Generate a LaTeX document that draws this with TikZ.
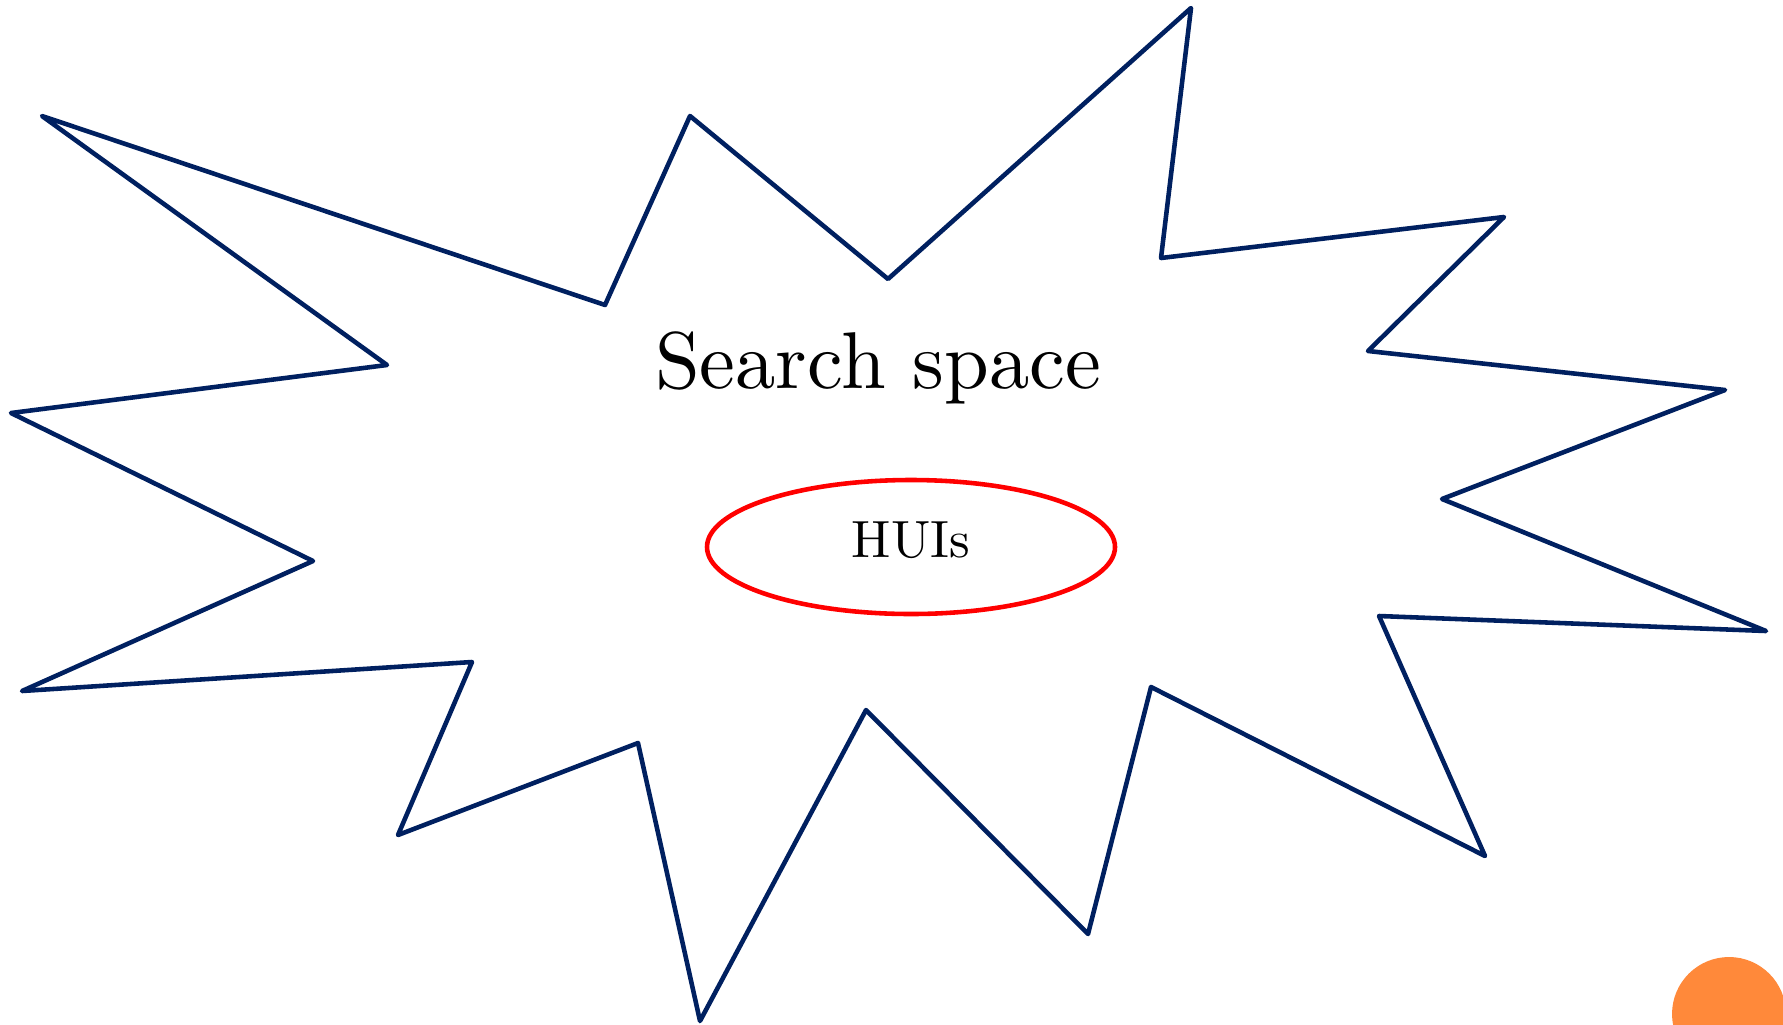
\documentclass[tikz,border=0pt]{standalone}
\usepackage{tikz}
\usetikzlibrary{positioning}
\usetikzlibrary{shapes.geometric}
\definecolor{mnavy}{RGB}{0,32,96}
\definecolor{morange}{RGB}{255,137,58}
\newlength{\pxu}
\setlength{\pxu}{0.01cm}
\tikzset{burst/.style = {draw=mnavy, line width=1.3pt, line join=round, line cap=round}}
\tikzset{hui/.style = {draw=red, line width=1.3pt, ellipse, minimum width=408\pxu, minimum height=134\pxu, inner sep=0}}

\begin{document}
\begin{tikzpicture}[x=0.01cm, y=-0.01cm]
      \useasboundingbox (0,0) rectangle (1783,1024);
      \clip (0,0) rectangle (1783,1024);
      \draw[burst] (42,116) -- (605,305) -- (690,116) -- (888,279)
        -- (1191,8) -- (1161,258) -- (1504,217) -- (1368,351)
        -- (1725,390) -- (1442,499) -- (1766,631) -- (1379,616)
        -- (1485,856) -- (1151,687) -- (1088,934) -- (866,710)
        -- (700,1021) -- (638,743) -- (398,835) -- (472,662)
        -- (22,691) -- (313,561) -- (11,413) -- (387,365) -- cycle;
      \node[scale=2.29, anchor=base] (space) at (878,388) {Search space};
      \node[hui] (huis) at (911,547) {};
      \node[scale=1.49, anchor=base] (huitext) at (911,557) {HUIs};
      \fill[morange] (1729,1014) circle (57);
    \end{tikzpicture}
\end{document}
